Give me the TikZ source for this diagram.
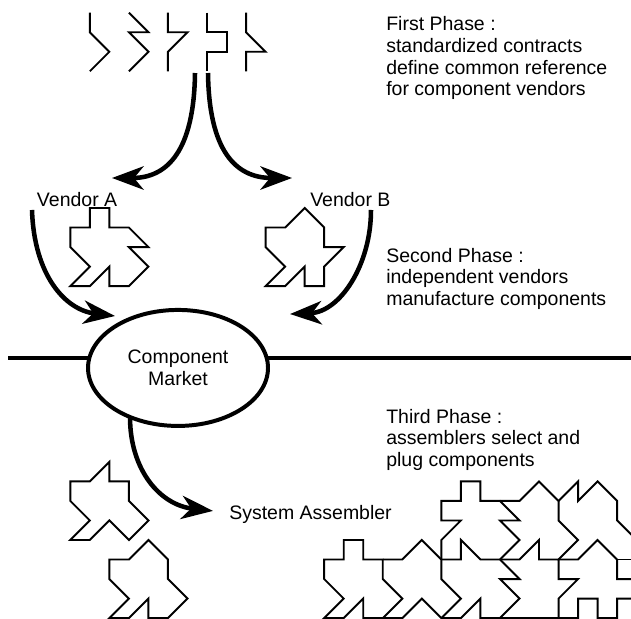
\documentclass[tikz,border=0pt]{standalone}
\usepackage{fontspec}
\setmainfont{Liberation Sans}
\usepackage{tikz}
\usetikzlibrary{positioning, arrows.meta, shapes.geometric, calc}

\tikzset{
  piece/.style={line width=1.4pt, miter limit=4},
  flow/.style={line width=3.3pt, -{Stealth[length=23pt, width=17pt, inset=7pt]}},
  phase/.style={anchor=north west, align=left, inner sep=0pt},
  label/.style={anchor=base west, inner sep=0pt},
}

\begin{document}
\begin{tikzpicture}[x=5mm, y=-5mm, font=\fontsize{14.2}{15.8}\selectfont]
\useasboundingbox (-3.6,-0.65) rectangle (28.71,31.044);
\clip (-3.6,-0.65) rectangle (28.71,31.044);

% contracts
\draw[piece] (1,0) -- (1,1) -- (2,2) -- (1,3);
\draw[piece] (3,0) -- (4,1) -- (3,1) -- (4,2) -- (3,3);
\draw[piece] (5,0) -- (5,1) -- (6,1) -- (5,2) -- (5,3);
\draw[piece] (7,0) -- (7,1) -- (8,1) -- (8,2) -- (7,2) -- (7,3);
\draw[piece] (9,0) -- (9,1) -- (10,2) -- (9,2) -- (9,3);

\node[phase] (first) at (16.165,0.184) {First Phase :\\standardized contracts\\define common reference\\for component vendors};
\node[phase] (second) at (16.165,12.04) {Second Phase :\\independent vendors\\manufacture components};
\node[phase] (third) at (16.165,20.28) {Third Phase :\\assemblers select and\\plug components};

\node[label] (vendorA) at (-1.72,9.933) {Vendor A};
\node[label] (vendorB) at (12.274,9.898) {Vendor B};
\node[label] (assembler) at (8.126,25.97) {System Assembler};

% vendor parts
\draw[piece] (1,10) -- (2,10) -- (2,11) -- (3,11) -- (4,12) -- (3,12) -- (4,13) -- (3,14) -- (2,14) -- (2,13) -- (1,14) -- (0,14) -- (1,13) -- (0,12) -- (0,11) -- (1,11) -- cycle;
\draw[piece] (10,11) -- (11,11) -- (12,10) -- (13,11) -- (13,12) -- (14,12) -- (13,13) -- (13,14) -- (12,14) -- (12,13) -- (11,14) -- (10,14) -- (11,13) -- (10,12) -- cycle;

% market
\draw[line width=2.9pt] (-3.19,17.68) -- (28.71,17.68);
\node[ellipse, draw, line width=2.9pt, fill=white, minimum width=46.08mm, minimum height=29.7mm, align=center] (market) at (5.515,18.19) {Component\\Market};

\coordinate (srcL) at (6.385,3.088);
\coordinate (srcR) at (7.051,3.088);
\coordinate (toA) at (2.135,8.464);
\coordinate (toB) at (11.352,8.464);
\coordinate (fromA) at (-1.961,10.102);
\coordinate (fromB) at (15.397,10.102);
\coordinate (inA) at (2.289,15.53);
\coordinate (inB) at (11.25,15.43);
\coordinate (out) at (3.057,20.70);
\coordinate (toSys) at (7.307,25.51);

\draw[flow] (srcL) .. controls (6.334,7.03) and (5.003,8.464) .. (toA);
\draw[flow] (srcR) .. controls (7.102,7.03) and (8.433,8.464) .. (toB);
\draw[flow] (fromA) .. controls (-1.859,13.43) and (-0.271,15.22) .. (inA);
\draw[flow] (fromB) .. controls (15.397,12.92) and (13.81,15.325) .. (inB);
\draw[flow] (out) .. controls (3.057,23.42) and (4.593,25.21) .. (toSys);

% loose parts
\draw[piece] (0,24) -- (1,24) -- (2,23) -- (2,24) -- (3,24) -- (3,25) -- (4,26) -- (3,27) -- (2,26) -- (1,27) -- (0,27) -- (1,26) -- (0,25) -- cycle;
\draw[piece] (2,28) -- (3,28) -- (4,27) -- (5,28) -- (5,29) -- (6,30) -- (5,31) -- (4,31) -- (4,30) -- (3,31) -- (2,31) -- (3,30) -- (2,29) -- cycle;

% assembled parts, lower row
\draw[piece] (13,28) -- (14,28) -- (14,27) -- (15,27) -- (15,28) -- (16,28) -- (16,29) -- (17,30) -- (16,31) -- (15,31) -- (15,30) -- (14,31) -- (13,31) -- (14,30) -- (13,29) -- cycle;
\draw[piece] (16,28) -- (17,28) -- (18,27) -- (19,28) -- (19,29) -- (20,30) -- (19,31) -- (18,30) -- (17,31) -- (16,31);
\draw[piece] (19,28) -- (20,28) -- (20,27) -- (21,28) -- (22,28) -- (23,29) -- (22,29) -- (23,30) -- (22,31) -- (21,31) -- (21,30) -- (20,31) -- (19,31);
\draw[piece] (22,28) -- (23,28) -- (24,27) -- (24,28) -- (25,28) -- (25,29) -- (26,29) -- (25,30) -- (25,31) -- (22,31);
\draw[piece] (25,28) -- (26,28) -- (27,27) -- (28,28) -- (28,29) -- (29,29) -- (29,30) -- (28,30) -- (28,31) -- (27,31) -- (27,30) -- (26,30) -- (26,31) -- (25,31);
% assembled parts, upper row
\draw[piece] (19,28) -- (19,27) -- (20,26) -- (19,26) -- (19,25) -- (20,25) -- (20,24) -- (21,24) -- (21,25) -- (22,25) -- (23,26) -- (22,26) -- (23,27) -- (22,28);
\draw[piece] (22,25) -- (23,25) -- (24,24) -- (25,25) -- (25,26) -- (26,27) -- (25,28);
\draw[piece] (25,25) -- (26,24) -- (26,25) -- (27,24) -- (28,25) -- (28,26) -- (29,27);
\draw[piece] (28,28) -- (29,28);
\end{tikzpicture}
\end{document}
